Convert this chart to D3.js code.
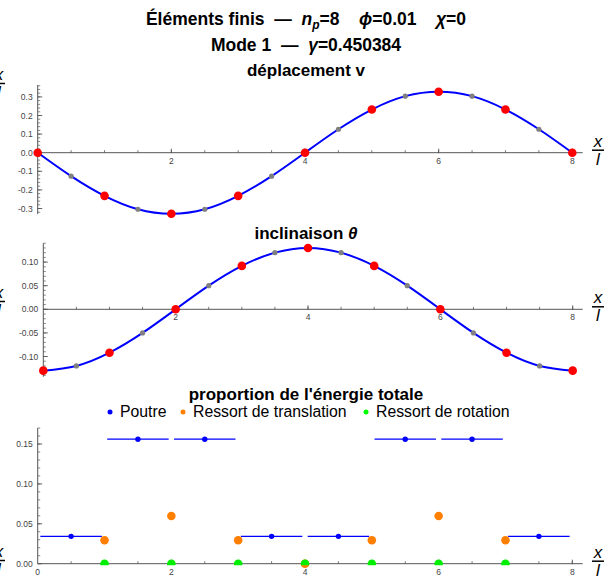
<!DOCTYPE html>
<html>
<head>
<meta charset="utf-8">
<script src="https://cdn.jsdelivr.net/npm/d3@7"></script>
<style>
  body { margin: 0; background: #fff; }
  text { font-family: "Liberation Sans", Arial, sans-serif; white-space: pre; }
</style>
</head>
<body>
<div id="chart"></div>
<script>
// nodes and element midpoints along the beam (x/l)
var xNodes = [0, 1, 2, 3, 4, 5, 6, 7, 8];
var xMids = [0.5, 1.5, 2.5, 3.5, 4.5, 5.5, 6.5, 7.5];

// déplacement v
var vNodes = [0, -0.232, -0.328, -0.232, 0, 0.232, 0.328, 0.232, 0];
var vMids = [-0.126, -0.304, -0.304, -0.126, 0.126, 0.304, 0.304, 0.126];

// inclinaison theta
var tNodes = [-0.130, -0.092, 0, 0.092, 0.130, 0.092, 0, -0.092, -0.130];
var tMids = [-0.120, -0.050, 0.050, 0.120, 0.120, 0.050, -0.050, -0.120];

// proportion de l'énergie
var ePoutre = [0.0343, 0.156, 0.156, 0.0343, 0.0343, 0.156, 0.156, 0.0343];
var xRessorts = [1, 2, 3, 4, 5, 6, 7];
var eTranslation = [0.0293, 0.0598, 0.0293, 0, 0.0293, 0.0598, 0.0293];
var eRotation = [0, 0, 0, 0, 0, 0, 0];

var vTicks = [-0.3, -0.2, -0.1, 0.0, 0.1, 0.2, 0.3];
var tTicks = [-0.10, -0.05, 0.00, 0.05, 0.10];
var eTicks = [0.00, 0.05, 0.10, 0.15];
var xTicks = [2, 4, 6, 8];
var legendLabels = ["Poutre", "Ressort de translation", "Ressort de rotation"];
var legendColors = ["#0000ff", "#ff8000", "#00ff00"];

var W = 610, H = 583;
var svg = d3.select("#chart").append("svg")
  .attr("width", W).attr("height", H);
svg.append("rect").attr("width", W).attr("height", H).attr("fill", "white");

var axisColor = "#555";
var xEnd = 582.7;

// draw the axes of one panel
function drawAxes(x, y, yTicks, yMinorStep, fmt, showZero) {
  var g = svg.append("g");
  var y0 = y(0);
  var dom = y.domain();
  // y axis
  g.append("line")
    .attr("x1", x(0)).attr("x2", x(0))
    .attr("y1", y(dom[0])).attr("y2", y(dom[1]))
    .attr("stroke", axisColor).attr("stroke-width", 1);
  var minor = d3.range(Math.ceil(dom[0] / yMinorStep - 1e-6), Math.floor(dom[1] / yMinorStep + 1e-6) + 1)
    .map(function(k) { return k * yMinorStep; });
  g.selectAll(".ym").data(minor).enter().append("line")
    .attr("x1", x(0)).attr("x2", x(0) + 2.5)
    .attr("y1", function(d) { return y(d); }).attr("y2", function(d) { return y(d); })
    .attr("stroke", axisColor).attr("stroke-width", 0.7);
  g.selectAll(".yM").data(yTicks).enter().append("line")
    .attr("x1", x(0)).attr("x2", x(0) + 4.5)
    .attr("y1", function(d) { return y(d); }).attr("y2", function(d) { return y(d); })
    .attr("stroke", axisColor).attr("stroke-width", 0.9);
  g.selectAll(".yl").data(yTicks).enter().append("text")
    .attr("x", x(0) - 5).attr("y", function(d) { return y(d) + 3; })
    .attr("text-anchor", "end").attr("font-size", 8.5).attr("fill", "#444")
    .text(function(d) { return fmt(d); });
  // x axis
  g.append("line")
    .attr("x1", x(0)).attr("x2", xEnd)
    .attr("y1", y0).attr("y2", y0)
    .attr("stroke", axisColor).attr("stroke-width", 1);
  var xm = d3.range(1, 17).map(function(k) { return k * 0.5; });
  g.selectAll(".xm").data(xm).enter().append("line")
    .attr("x1", function(d) { return x(d); }).attr("x2", function(d) { return x(d); })
    .attr("y1", y0).attr("y2", y0 - 2.5)
    .attr("stroke", axisColor).attr("stroke-width", 0.8);
  g.selectAll(".xM").data(xTicks).enter().append("line")
    .attr("x1", function(d) { return x(d); }).attr("x2", function(d) { return x(d); })
    .attr("y1", y0 + 0.5).attr("y2", y0 - 4)
    .attr("stroke", axisColor).attr("stroke-width", 0.9);
  var xl = showZero ? [0].concat(xTicks) : xTicks;
  g.selectAll(".xl").data(xl).enter().append("text")
    .attr("x", function(d) { return x(d); }).attr("y", y0 + 11)
    .attr("text-anchor", "middle").attr("font-size", 8.5).attr("fill", "#444")
    .text(function(d) { return d; });
  // x/l labels
  fracLabel(598, y0 - 3);
}

function fracLabel(cx, cy) {
  var g = svg.append("g");
  g.append("text").attr("x", cx).attr("y", cy - 3)
    .attr("text-anchor", "middle").attr("font-size", 17).attr("font-style", "italic")
    .text("x");
  g.append("line").attr("x1", cx - 6).attr("x2", cx + 6)
    .attr("y1", cy + 0.5).attr("y2", cy + 0.5)
    .attr("stroke", "black").attr("stroke-width", 1.5);
  g.append("text").attr("x", cx).attr("y", cy + 15)
    .attr("text-anchor", "middle").attr("font-size", 17).attr("font-style", "italic")
    .text("l");
}

function fmtFixed(n) {
  return function(d) { return d3.format("." + n + "f")(d).replace("−", "-"); };
}

function title(txt, yPos, size) {
  return svg.append("text").attr("x", 306).attr("y", yPos)
    .attr("text-anchor", "middle").attr("font-size", size || 17)
    .attr("font-weight", "bold").text(txt);
}

// ---- main titles
var t1 = svg.append("text").attr("x", 306).attr("y", 25)
  .attr("text-anchor", "middle").attr("font-size", 17.5).attr("font-weight", "bold");
t1.append("tspan").text("Éléments finis  —  ");
t1.append("tspan").attr("font-style", "italic").text("n");
t1.append("tspan").attr("font-style", "italic").attr("font-size", 12).attr("dy", 4).text("p");
t1.append("tspan").attr("dy", -4).text("=8    ");
t1.append("tspan").attr("font-style", "italic").text("ϕ");
t1.append("tspan").text("=0.01    ");
t1.append("tspan").attr("font-style", "italic").text("χ");
t1.append("tspan").text("=0");

var t2 = svg.append("text").attr("x", 306).attr("y", 51)
  .attr("text-anchor", "middle").attr("font-size", 17.5).attr("font-weight", "bold");
t2.append("tspan").text("Mode 1  —  ");
t2.append("tspan").attr("font-style", "italic").text("γ");
t2.append("tspan").text("=0.450384");

// ---- panel 1 : déplacement v
title("déplacement v", 76);
var x1 = d3.scaleLinear().domain([0, 8]).range([37.7, 572.3]);
var y1 = d3.scaleLinear().domain([-0.33, 0.364]).range([152.7 + 0.33 * 186, 152.7 - 0.364 * 186]);
drawAxes(x1, y1, vTicks, 0.02, fmtFixed(1), false);

function mergePts(nodes, mids) {
  var pts = xNodes.map(function(d, i) { return [d, nodes[i]]; })
    .concat(xMids.map(function(d, i) { return [d, mids[i]]; }));
  return pts.sort(function(a, b) { return a[0] - b[0]; });
}

function drawCurve(x, y, nodes, mids) {
  var line = d3.line().curve(d3.curveNatural)
    .x(function(d) { return x(d[0]); }).y(function(d) { return y(d[1]); });
  svg.append("path").datum(mergePts(nodes, mids))
    .attr("fill", "none").attr("stroke", "#0000ff").attr("stroke-width", 2)
    .attr("d", line);
  svg.append("g").selectAll("circle").data(mids).enter().append("circle")
    .attr("cx", function(d, i) { return x(xMids[i]); })
    .attr("cy", function(d) { return y(d); })
    .attr("r", 2.6).attr("fill", "#808080");
  svg.append("g").selectAll("circle").data(nodes).enter().append("circle")
    .attr("cx", function(d, i) { return x(xNodes[i]); })
    .attr("cy", function(d) { return y(d); })
    .attr("r", 4.3).attr("fill", "#ff0000");
}
drawCurve(x1, y1, vNodes, vMids);
fracLabel(-1, 83);

// ---- panel 2 : inclinaison theta
var tt = svg.append("text").attr("x", 306).attr("y", 239)
  .attr("text-anchor", "middle").attr("font-size", 17).attr("font-weight", "bold");
tt.append("tspan").text("inclinaison ");
tt.append("tspan").attr("font-style", "italic").text("θ");
var x2 = d3.scaleLinear().domain([0, 8]).range([43.3, 572.7]);
var y2 = d3.scaleLinear().domain([-0.143, 0.14]).range([309.3 + 0.143 * 472, 309.3 - 0.14 * 472]);
drawAxes(x2, y2, tTicks, 0.01, fmtFixed(2), false);
drawCurve(x2, y2, tNodes, tMids);
fracLabel(-1, 301);

// ---- panel 3 : energy proportions
title("proportion de l'énergie totale", 400);
var x3 = d3.scaleLinear().domain([0, 8]).range([37.7, 572.3]);
var y3 = d3.scaleLinear().domain([0, 0.170]).range([563.7, 563.7 - 0.170 * 798]);
drawAxes(x3, y3, eTicks, 0.01, fmtFixed(2), true);
fracLabel(-1, 560);

// legend
var leg = svg.append("g");
var legX = [110, 183, 366];
legendLabels.forEach(function(lab, i) {
  leg.append("circle").attr("cx", legX[i]).attr("cy", 412).attr("r", 2.5).attr("fill", legendColors[i]);
  leg.append("text").attr("x", legX[i] + 10).attr("y", 417).attr("font-size", 15.8).text(lab);
});

svg.append("defs").append("clipPath").attr("id", "clipE")
  .append("rect").attr("x", 0).attr("y", 0).attr("width", W).attr("height", y3(0) + 1.5);

svg.append("g").selectAll("line").data(ePoutre).enter().append("line")
  .attr("x1", function(d, i) { return x3(xMids[i] - 0.46); })
  .attr("x2", function(d, i) { return x3(xMids[i] + 0.46); })
  .attr("y1", function(d) { return y3(d); }).attr("y2", function(d) { return y3(d); })
  .attr("stroke", "#0000ff").attr("stroke-width", 1.3);
svg.append("g").selectAll("circle").data(ePoutre).enter().append("circle")
  .attr("cx", function(d, i) { return x3(xMids[i]); })
  .attr("cy", function(d) { return y3(d); })
  .attr("r", 2.7).attr("fill", "#0000ff");
svg.append("g").selectAll("circle").data(eTranslation).enter().append("circle")
  .attr("cx", function(d, i) { return x3(xRessorts[i]); })
  .attr("cy", function(d) { return y3(d); })
  .attr("r", 4.3).attr("fill", "#ff8000");
svg.append("g").attr("clip-path", "url(#clipE)")
  .selectAll("circle").data(eRotation).enter().append("circle")
  .attr("cx", function(d, i) { return x3(xRessorts[i]); })
  .attr("cy", function(d) { return y3(d); })
  .attr("r", 4.3).attr("fill", "#00ee00");
</script>
</body>
</html>
